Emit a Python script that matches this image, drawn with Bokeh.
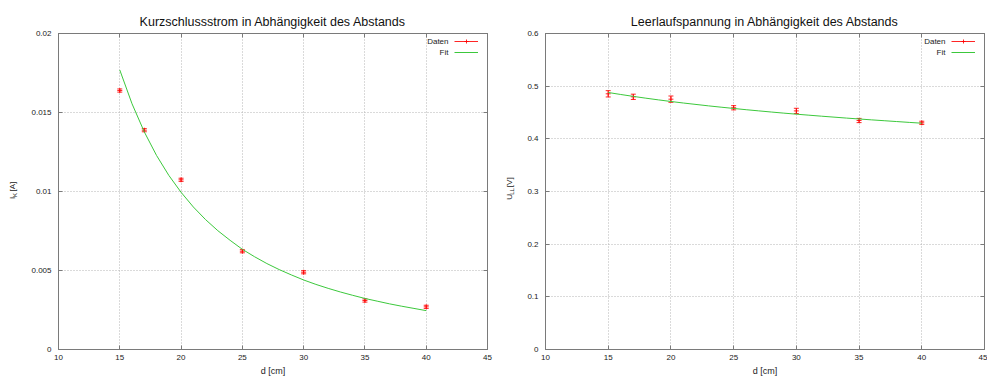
import math
from bokeh.plotting import figure
from bokeh.layouts import row
from bokeh.models import (FixedTicker, Legend, LegendItem, LinearAxis, Range1d, Label,
                          CustomJSTickFormatter, ColumnDataSource)
from bokeh.core.properties import value
from bokeh.embed import file_html
from bokeh.resources import INLINE

# ---------------- data ----------------
d_cm = [15, 17, 20, 25, 30, 35, 40]
ik_A = [0.01639, 0.01388, 0.01074, 0.00622, 0.00489, 0.00310, 0.00270]
ik_err = [0.0001, 0.0001, 0.0001, 0.0001, 0.0001, 0.0001, 0.0001]
ull_V = [0.4855, 0.4798, 0.4753, 0.4590, 0.4530, 0.4348, 0.4304]
ull_err = [0.006, 0.005, 0.006, 0.004, 0.005, 0.004, 0.003]

fit_d = [15, 16, 17, 18, 19, 20, 21, 22, 23, 24, 25, 26, 27, 28, 29, 30,
         31, 32, 33, 34, 35, 36, 37, 38, 39, 40]
fit_ik = [0.01769, 0.01555, 0.01377, 0.01228, 0.01102, 0.00995, 0.00902, 0.00822,
          0.00752, 0.00691, 0.00634, 0.00587, 0.00544, 0.00506, 0.00472, 0.00440,
          0.00412, 0.00387, 0.00364, 0.00343, 0.00323, 0.00306, 0.00289, 0.00274,
          0.00260, 0.00246]
fit_ull = [0.4880, 0.4842, 0.4806, 0.4772, 0.4740, 0.4709, 0.4680, 0.4653, 0.4626,
           0.4601, 0.4577, 0.4553, 0.4531, 0.4509, 0.4488, 0.4468, 0.4449, 0.4430,
           0.4412, 0.4394, 0.4377, 0.4360, 0.4344, 0.4328, 0.4312, 0.4297]

x_ticks = [10, 15, 20, 25, 30, 35, 40, 45]
x_tick_labels = ["10", "15", "20", "25", "30", "35", "40", "45"]
ik_ticks = [0, 0.005, 0.01, 0.015, 0.02]
ik_tick_labels = ["0", "0.005", "0.01", "0.015", "0.02"]
ull_ticks = [0, 0.1, 0.2, 0.3, 0.4, 0.5, 0.6]
ull_tick_labels = ["0", "0.1", "0.2", "0.3", "0.4", "0.5", "0.6"]
legend_labels = ["Daten", "Fit"]

FONT = "Liberation Sans"
RED = "#ff0000"
GREEN = "#3cc83c"
AX = "#7a7a7a"
TXT = "#222222"
H = 378
FRAME_H = 316  # 378 - 33 (top) - 29 (bottom)


def label_strip(width, xc, y_start, parts):
    """Narrow figure that holds the rotated y-axis label (with subscript)."""
    f = figure(width=width, height=H, x_range=Range1d(0, width), y_range=Range1d(0, H),
               output_backend="svg", toolbar_location=None, x_axis_type=None, y_axis_type=None,
               min_border=0, min_border_left=0, min_border_right=0, min_border_top=0,
               min_border_bottom=0, outline_line_color=None)
    f.grid.visible = False
    y = H - y_start
    for text, size, width_px, dx in parts:
        f.text(x=[xc + dx], y=[y], text=[text], angle=math.pi / 2, text_align="left",
               text_baseline="middle", text_font=value(FONT), text_font_size=size,
               text_color=TXT)
        y += width_px
    return f


def panel(title, width, bl, br, yvals, yerr, fit_vals, yticks, ylabels, ymax):
    p = figure(width=width, height=H, x_range=Range1d(10, 45), y_range=Range1d(0, ymax),
               output_backend="svg", toolbar_location=None, title=title,
               min_border_left=bl, min_border_right=br, min_border_top=33, min_border_bottom=29)
    frame_w = width - bl - br
    p.title.text_font = FONT
    p.title.text_font_size = "12.5px"
    p.title.text_font_style = "normal"
    p.title.align = "center"
    p.title.text_color = "#111111"
    p.outline_line_color = AX
    p.outline_line_width = 1

    for ax, ticks, labels in ((p.xaxis[0], x_ticks, x_tick_labels), (p.yaxis[0], yticks, ylabels)):
        ax.ticker = FixedTicker(ticks=ticks)
        ax.major_label_overrides = dict(zip(ticks, labels))
        ax.major_tick_in = 4
        ax.major_tick_out = 0
        ax.minor_tick_line_color = None
        ax.axis_line_color = AX
        ax.major_tick_line_color = AX
        ax.major_label_text_font = FONT
        ax.major_label_text_font_size = "8px"
        ax.major_label_text_color = TXT
    p.yaxis.major_label_standoff = 7
    p.xaxis.major_label_standoff = 5
    p.xaxis.axis_label = "d [cm]"
    p.xaxis.axis_label_text_font = FONT
    p.xaxis.axis_label_text_font_size = "9px"
    p.xaxis.axis_label_text_font_style = "normal"
    p.xaxis.axis_label_text_color = TXT
    p.xaxis.axis_label_standoff = 3

    # mirrored tick marks (gnuplot style)
    for loc, ticks in (("right", yticks), ("above", x_ticks)):
        ax = LinearAxis(ticker=FixedTicker(ticks=ticks),
                        formatter=CustomJSTickFormatter(code="return ''"),
                        major_tick_in=4, major_tick_out=0, minor_tick_line_color=None,
                        axis_line_color=AX, major_tick_line_color=AX,
                        major_label_standoff=0, major_label_text_font_size="0px")
        p.add_layout(ax, loc)

    p.grid.grid_line_color = "#b4b4b4"
    p.grid.grid_line_dash = "1 2"
    p.xgrid.ticker = FixedTicker(ticks=x_ticks)
    p.ygrid.ticker = FixedTicker(ticks=yticks)

    src = ColumnDataSource(dict(d=d_cm, y=yvals,
                                lo=[v - e for v, e in zip(yvals, yerr)],
                                hi=[v + e for v, e in zip(yvals, yerr)]))
    p.segment(x0="d", y0="lo", x1="d", y1="hi", source=src, line_color=RED,
              line_width=1, line_alpha=0.85)
    p.scatter("d", "lo", source=src, marker="dash", size=5, line_color=RED, line_width=1, line_alpha=0.85)
    p.scatter("d", "hi", source=src, marker="dash", size=5, line_color=RED, line_width=1, line_alpha=0.85)
    pts = p.scatter("d", "y", source=src, marker="cross", size=5, line_color=RED,
                    line_width=1, line_alpha=0.85)
    fit = p.line(fit_d, fit_vals, line_color=GREEN, line_width=1)
    # legend-only sample line for the data key (a single NaN point draws nothing on the plot)
    key_line = p.line(x=[float("nan")], y=[float("nan")], line_color=RED, line_width=1,
                      line_alpha=0.85)

    # gnuplot-style key: text right-aligned, sample to its right
    leg = Legend(items=[LegendItem(label=" ", renderers=[key_line, pts]),
                        LegendItem(label=" ", renderers=[fit])],
                 location=(frame_w - 33, FRAME_H - 1 - 23),
                 label_text_font=FONT, label_text_font_size="8px",
                 glyph_width=24, glyph_height=10, label_height=10, label_width=0,
                 spacing=1, padding=1, margin=0, border_line_color=None,
                 background_fill_alpha=0, label_standoff=0)
    p.add_layout(leg)
    for i, txt in enumerate(legend_labels):
        p.add_layout(Label(x=frame_w - 39, y=FRAME_H - 7.5 - 11 * i, x_units="screen",
                           y_units="screen", text=txt, text_align="right", text_baseline="middle",
                           text_font=FONT, text_font_size="8px", text_color=TXT))
    return p


lab1 = label_strip(24, 12, 198, [("I", "8px", 2.4, 0), ("K", "6px", 6.6, 2.2), ("[A]", "8px", 0, 0)])
p1 = panel("Kurzschlussstrom in Abhängigkeit des Abstands", 469, 34, 6, ik_A, ik_err, fit_ik,
           ik_ticks, ik_tick_labels, 0.02)
lab2 = label_strip(24, 16, 199, [("U", "8px", 6.0, 0), ("LL", "6px", 9.2, 2.2), ("[V]", "8px", 0, 0)])
p2 = panel("Leerlaufspannung in Abhängigkeit des Abstands", 470, 28, 3, ull_V, ull_err, fit_ull,
           ull_ticks, ull_tick_labels, 0.6)

layout = row(lab1, p1, lab2, p2)
open("out.html", "w").write(file_html(layout, INLINE))
